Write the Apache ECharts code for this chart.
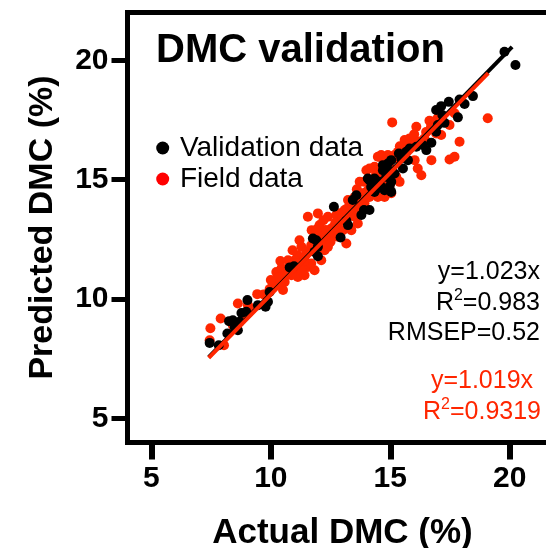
<!DOCTYPE html>
<html><head><meta charset="utf-8">
<script src="https://cdn.jsdelivr.net/npm/echarts@6/dist/echarts.min.js"></script>
<style>html,body{margin:0;padding:0;background:#fff}#c{width:546px;height:548px}</style>
</head><body><div id="c"></div>
<script>
// ---- data ----
const xTicks = [5, 10, 15, 20];
const yTicks = [5, 10, 15, 20];
const titleText = 'DMC validation';
const legendNames = ['Validation data', 'Field data'];

const validationData = [
 [7.44,8.17],[7.82,8.07],[8.18,8.56],[8.25,9.08],[8.41,9.12],[8.49,8.81],[8.62,8.70],[8.69,9.05],
 [8.77,9.42],[8.97,9.47],[9.02,9.96],[9.46,9.75],[9.78,9.68],[9.88,9.89],[9.95,10.30],[10.79,11.33],
 [10.97,11.38],[11.76,12.54],[11.90,12.47],[11.97,12.19],[11.83,11.98],[11.97,11.80],[12.64,13.87],
 [12.92,12.58],[13.16,13.28],[13.23,13.10],[13.43,14.15],[13.58,14.35],[13.79,13.52],[13.90,13.73],
 [14.13,13.73],[14.06,15.05],[14.20,14.70],[14.34,14.49],[14.48,14.91],[14.62,14.70],[14.69,15.61],
 [14.76,15.47],[14.83,15.12],[14.90,15.68],[15.04,15.82],[14.97,14.70],[18.46,18.50],[18.11,18.17],
 [17.90,18.36],[17.45,18.26],[17.13,18.08],[16.92,17.92],[17.18,17.71],[17.83,17.61],[17.27,17.38],
 [16.99,17.29],[16.92,17.01],[16.72,16.55],[16.36,16.45],[16.51,16.24],[16.09,16.38],[15.81,16.31],
 [15.67,16.17],[15.36,16.10],[15.46,15.89],[15.74,15.82],[14.90,15.40],[14.69,15.40],[15.53,15.47],
 [15.18,15.26],[14.34,15.05],[14.13,14.98],[14.55,14.91],[15.04,14.91],[14.48,14.64],[14.76,14.56],
 [15.04,14.49],[19.78,20.36],[20.24,19.80]
];

const fieldData = [
 [7.47,8.78],[7.44,8.28],[7.90,9.19],[8.04,8.07],[8.62,9.82],[9.43,10.21],[9.04,9.75],[10.23,11.14],
 [10.16,10.66],[10.51,10.38],[10.37,10.93],[10.58,10.72],[10.65,11.14],[11.00,11.07],[11.13,10.93],
 [11.28,11.28],[11.13,11.84],[11.28,12.19],[11.00,11.63],[10.05,10.51],[9.95,10.42],[10.79,11.55],
 [10.45,11.30],[11.55,13.45],[11.97,13.59],[11.20,12.47],[10.72,11.63],[11.41,11.77],[11.20,11.49],
 [11.55,11.35],[11.83,11.21],[11.28,11.21],[10.86,11.00],[11.62,12.05],[12.25,12.75],[12.46,12.47],
 [12.53,12.96],[12.81,13.10],[12.39,13.45],[12.74,13.52],[13.09,13.73],[13.16,12.33],[13.02,12.89],
 [13.37,12.89],[13.51,13.45],[13.23,14.15],[13.64,13.17],[13.92,14.01],[13.92,14.91],[14.00,15.40],
 [13.72,14.91],[14.13,14.28],[14.48,15.96],[14.62,16.03],[14.90,16.03],[14.34,15.54],[14.27,14.56],
 [14.48,14.28],[14.76,14.28],[14.90,14.85],[15.04,14.43],[13.51,14.28],[12.04,13.10],[11.71,12.89],
 [12.13,12.47],[10.91,12.05],[15.08,17.40],[16.09,17.22],[16.64,17.47],[16.92,17.50],[17.48,17.29],
 [17.69,17.78],[17.90,16.59],[17.48,15.85],[17.69,15.96],[16.72,15.82],[16.43,16.73],[16.92,16.94],
 [17.13,16.87],[15.81,16.73],[15.60,16.66],[15.67,16.49],[15.95,16.59],[15.32,16.17],[15.18,16.03],
 [14.55,15.96],[16.15,15.47],[16.30,15.19],[16.02,15.82],[14.90,15.12],[15.25,15.12],[15.39,14.91],
 [14.13,15.47],[14.97,14.77],[19.08,17.57],[11.41,11.00],[11.69,11.49],[12.11,11.63],[12.25,12.05],
 [12.04,12.40],[12.67,12.75],[12.81,12.61],[12.95,13.31],[13.37,13.66],[13.72,13.80],[13.79,14.43],
 [14.13,14.64],[14.76,15.40],[15.11,15.12],[11.69,12.26],[12.39,12.19],[8.41,8.91],
 [10.30,10.90],[10.60,11.00],[10.90,11.30],[11.10,11.50],[11.40,11.60],[11.50,12.00],[11.80,12.10],
 [12.00,12.70],[12.20,12.30],[12.30,12.90],[12.60,13.00],[12.70,13.20],[12.90,13.60],[13.00,13.40],
 [13.20,13.80],[13.30,13.50],[13.50,14.00],[13.60,14.60],[13.80,14.20],[14.00,14.50],[14.20,15.00],
 [14.40,15.20],[14.60,15.30],[14.80,15.80],[15.00,15.50],[15.20,15.90],[15.40,16.40],[15.50,16.00],
 [15.80,16.50],[16.00,16.90],[16.20,16.60],[16.50,17.00],[16.70,17.20],[17.00,17.60],[10.00,10.80],
 [9.70,10.20],[9.20,9.60],[8.90,9.30],[12.00,13.00],[12.50,12.40],[13.30,13.00],[10.40,11.60],
 [11.90,12.90],[12.20,13.30]
];

// fitted lines (slope from the chart's equations, x extent)
const validationSlope = 1.023;
const validationFitX = [7.4, 20.1];
const fieldSlope = 1.019;
const fieldFitX = [7.4, 19.1];

const validationStats = ['y=1.023x', 'R2=0.983', 'RMSEP=0.52'];
const fieldStats = ['y=1.019x', 'R2=0.9319'];

// ---- chart ----
const FONT = '"Liberation Sans", Arial, Helvetica, sans-serif';
const BLACK = '#000000';
const RED = '#ff2600';

function fitLine(slope, xs) { return xs.map(x => [x, +(slope * x).toFixed(3)]); }
function richStat(s) {
  if (s.startsWith('R2')) return '{a|R}{s|2}{a|' + s.slice(2) + '}';
  return '{a|' + s + '}';
}

const chart = echarts.init(document.getElementById('c'), null, {renderer: 'canvas'});

const statGraphics = [];
const statRich = (color) => ({
  a: {fontSize: 25, lineHeight: 30, fontFamily: FONT, fill: color, color: color},
  s: {fontSize: 16, lineHeight: 16, fontFamily: FONT, verticalAlign: 'top', fill: color, color: color}
});
const blackY = [272, 303, 333];
validationStats.forEach((s, i) => {
  statGraphics.push({
    type: 'text', x: 540, y: blackY[i], z: 10,
    style: {text: richStat(s), rich: statRich(BLACK), fill: BLACK, font: '25px ' + FONT,
            align: 'right', verticalAlign: 'middle', textAlign: 'right', textVerticalAlign: 'middle'}
  });
});
const redY = [381, 412];
fieldStats.forEach((s, i) => {
  statGraphics.push({
    type: 'text', x: 482, y: redY[i], z: 10,
    style: {text: richStat(s), rich: statRich(RED), fill: RED, font: '25px ' + FONT,
            align: 'center', verticalAlign: 'middle', textAlign: 'center', textVerticalAlign: 'middle'}
  });
});

chart.setOption({
  animation: false,
  backgroundColor: '#ffffff',
  grid: {left: 127.5, top: 12.5, width: 430, height: 430, show: true, borderColor: BLACK, borderWidth: 5,
         backgroundColor: 'transparent', containLabel: false, outerBoundsMode: 'none'},
  xAxis: {
    type: 'value', min: 4, max: 22,
    axisLine: {show: true, onZero: false, lineStyle: {color: BLACK, width: 5}},
    axisTick: {show: true, length: 17, lineStyle: {color: BLACK, width: 6}, customValues: xTicks},
    axisLabel: {customValues: xTicks, fontSize: 30, fontWeight: 'bold', color: BLACK, fontFamily: FONT, margin: 21},
    splitLine: {show: false},
    name: 'Actual DMC (%)', nameLocation: 'middle', nameGap: 73,
    nameTextStyle: {fontSize: 35, fontWeight: 'bold', color: BLACK, fontFamily: FONT}
  },
  yAxis: {
    type: 'value', min: 4, max: 22,
    axisLine: {show: true, onZero: false, lineStyle: {color: BLACK, width: 5}},
    axisTick: {show: true, length: 16, lineStyle: {color: BLACK, width: 5}, customValues: yTicks},
    axisLabel: {customValues: yTicks, fontSize: 30, fontWeight: 'bold', color: BLACK, fontFamily: FONT, margin: 19},
    splitLine: {show: false},
    name: 'Predicted DMC (%)', nameLocation: 'middle', nameGap: 68, nameRotate: 90,
    nameTextStyle: {fontSize: 34, fontWeight: 'bold', color: BLACK, fontFamily: FONT}
  },
  legend: {
    orient: 'vertical', left: 156.2, top: 134, padding: 0, itemGap: 3,
    itemWidth: 24.5, itemHeight: 13, selectedMode: false, icon: 'circle',
    textStyle: {fontSize: 28, lineHeight: 28, color: BLACK, fontFamily: FONT},
    data: [
      {name: legendNames[0], itemStyle: {color: BLACK, opacity: 1}},
      {name: legendNames[1], itemStyle: {color: '#ff0000', opacity: 1}}
    ]
  },
  graphic: [
    {type: 'text', x: 156, y: 50.5, z: 10,
     style: {text: titleText, font: 'bold 40px ' + FONT, fill: BLACK,
             align: 'left', verticalAlign: 'middle', textAlign: 'left', textVerticalAlign: 'middle'}}
  ].concat(statGraphics),
  series: [
    {name: legendNames[1], type: 'scatter', data: fieldData, symbolSize: 10, z: 2,
     itemStyle: {color: RED, opacity: 1}, emphasis: {disabled: true}},
    {name: legendNames[0], type: 'scatter', data: validationData, symbolSize: 10, z: 2,
     itemStyle: {color: BLACK, opacity: 1}, emphasis: {disabled: true}},
    {type: 'line', data: fitLine(validationSlope, validationFitX), symbol: 'none', z: 3,
     lineStyle: {color: BLACK, width: 4}, emphasis: {disabled: true}},
    {type: 'line', data: fitLine(fieldSlope, fieldFitX), symbol: 'none', z: 3,
     lineStyle: {color: RED, width: 4}, emphasis: {disabled: true}}
  ]
});
</script></body></html>
